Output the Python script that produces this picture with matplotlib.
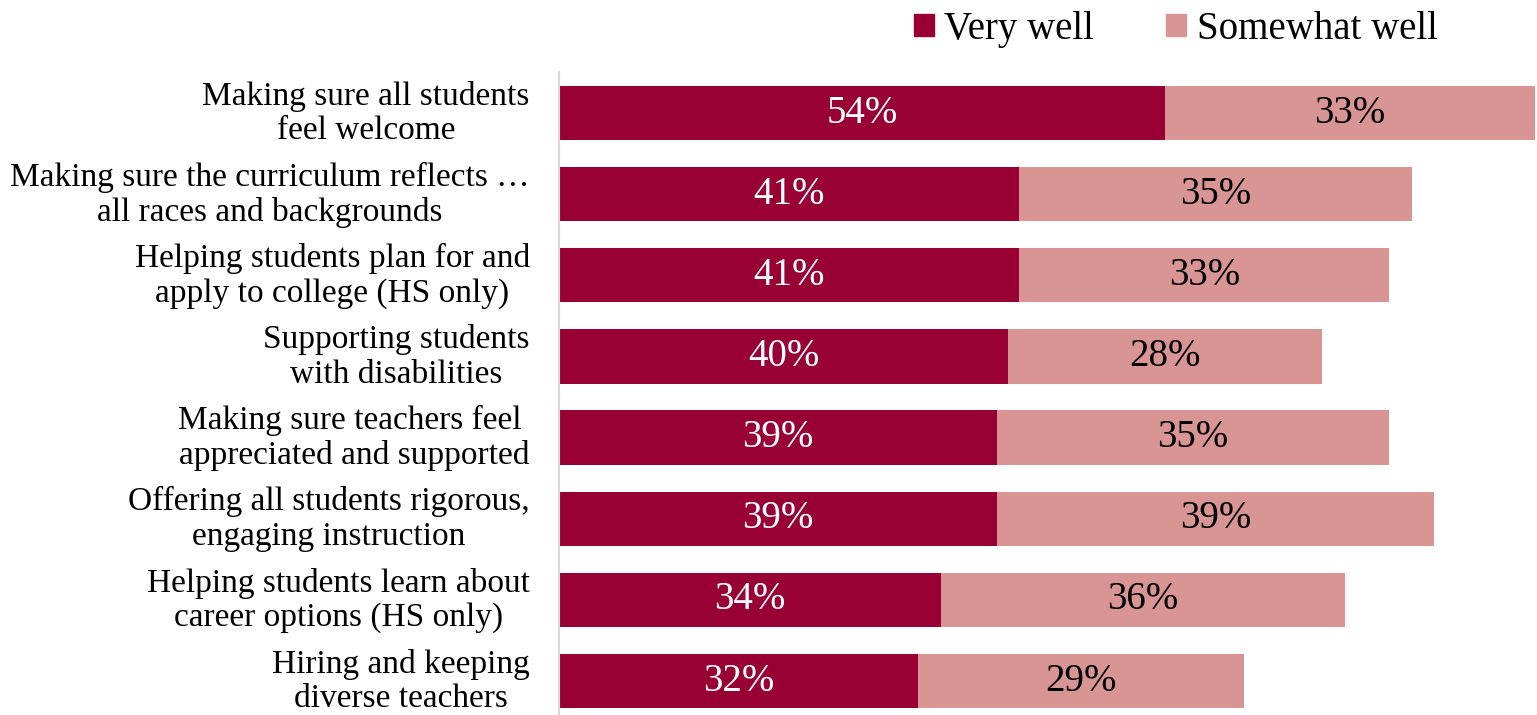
"""Horizontal stacked bars: how well schools handle each area."""

import matplotlib.pyplot as plt
from matplotlib.patches import Patch
from matplotlib.transforms import ScaledTranslation

CATEGORIES = [
    "Making sure all students\nfeel welcome",
    "Making sure the curriculum reflects \u2026\nall races and backgrounds",
    "Helping students plan for and\napply to college (HS only)",
    "Supporting students\nwith disabilities",
    "Making sure teachers feel \nappreciated and supported",
    "Offering all students rigorous,\nengaging instruction",
    "Helping students learn about\ncareer options (HS only)",
    "Hiring and keeping\ndiverse teachers",
]
VERY_WELL = [54, 41, 41, 40, 39, 39, 34, 32]
SOMEWHAT_WELL = [33, 35, 33, 28, 35, 39, 36, 29]
SERIES_NAMES = ["Very well", "Somewhat well"]

DARK_RED = "#990033"
PINK = "#D99594"
FONT = "Liberation Serif"
LABEL_SIZE = 24
VALUE_SIZE = 28
LEGEND_SIZE = 28


def main() -> None:
    fig = plt.figure(figsize=(15.37, 7.15), dpi=100)
    ax = fig.add_axes([0.3637, 0.0, 0.6363, 0.8987])

    positions = range(len(CATEGORIES))
    bar_height = 0.67

    ax.barh(positions, VERY_WELL, height=bar_height, color=DARK_RED)
    ax.barh(positions, SOMEWHAT_WELL, left=VERY_WELL, height=bar_height, color=PINK)

    for y, (first, second) in enumerate(zip(VERY_WELL, SOMEWHAT_WELL)):
        ax.text(first / 2, y, f"{first}%", ha="center", va="center",
                color="white", fontsize=VALUE_SIZE, family=FONT)
        ax.text(first + second / 2, y, f"{second}%", ha="center", va="center",
                color="black", fontsize=VALUE_SIZE, family=FONT)

    ax.set_xlim(0, 87.15)
    ax.set_ylim(7.419, -0.5)
    ax.set_xticks([])
    ax.set_yticks(list(positions))
    ax.set_yticklabels(CATEGORIES, fontsize=LABEL_SIZE, family=FONT,
                       multialignment="center", linespacing=1.17)
    ax.tick_params(axis="y", length=0, pad=21)

    # lift the category labels a few pixels so the last one stays on the canvas
    lift = ScaledTranslation(0, 5 / 100, fig.dpi_scale_trans)
    for label in ax.get_yticklabels():
        label.set_transform(label.get_transform() + lift)

    for side in ["top", "right", "bottom"]:
        ax.spines[side].set_visible(False)
    ax.spines["left"].set_color("#D9D9D9")
    ax.spines["left"].set_linewidth(1.5)

    handles = [Patch(color=DARK_RED), Patch(color=PINK)]
    fig.legend(handles, SERIES_NAMES, loc="center", bbox_to_anchor=(0.765, 0.959),
               ncol=2, frameon=False, prop={"family": FONT, "size": LEGEND_SIZE},
               handlelength=0.52, handleheight=0.52, handletextpad=0.26,
               columnspacing=1.85, borderpad=0, borderaxespad=0)

    fig.savefig("out.png", dpi=100)
    plt.close(fig)


if __name__ == "__main__":
    main()
